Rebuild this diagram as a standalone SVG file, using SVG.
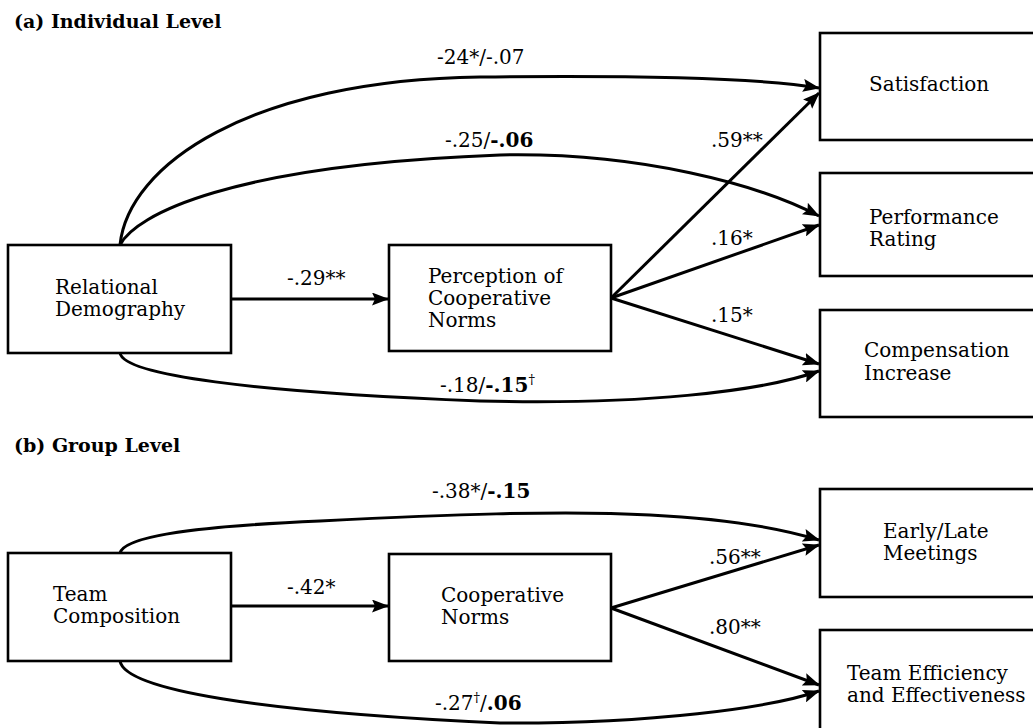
<svg xmlns="http://www.w3.org/2000/svg" width="1033" height="728" viewBox="0 0 1033 728">
<style>
.box{fill:#fff;stroke:#000;stroke-width:2.6}
.lbl{font-family:"DejaVu Serif","Liberation Serif",serif;font-size:20px;fill:#000}
.b{font-weight:bold}
.ttl{font-family:"DejaVu Serif","Liberation Serif",serif;font-size:19px;font-weight:bold;fill:#000}
.edge{fill:none;stroke:#000;stroke-width:3;marker-end:url(#ah)}
.sup{font-size:13px}
</style>
<defs>
<marker id="ah" viewBox="0 0 17 13" refX="16" refY="6.5" markerWidth="17" markerHeight="13" markerUnits="userSpaceOnUse" orient="auto">
<path d="M0,0 L17,6.5 L0,13 L3,6.5 Z" fill="#000"/>
</marker>
</defs>
<rect width="1033" height="728" fill="#fff"/>

<text class="ttl" x="14" y="28">(a) Individual Level</text>
<text class="ttl" x="14" y="452">(b) Group Level</text>

<g id="connectors">
<path class="edge" d="M120,245 C128,165 250,80 480,77 C650,75 760,78 819,88"/>
<path class="edge" d="M120,245 C135,215 230,165 500,155 C640,152 760,185 819,216"/>
<path class="edge" d="M120,353 C124,375 250,392 480,401 C640,405 760,392 819,371"/>
<path class="edge" d="M231,299 L388,299"/>
<path class="edge" d="M611,298 L819,93"/>
<path class="edge" d="M611,298 L819,225"/>
<path class="edge" d="M611,298 L819,364"/>
<path class="edge" d="M120,553 C124,538 180,527 320,521 C440,515 560,510 650,515 C730,519 780,528 819,540"/>
<path class="edge" d="M120,661 C125,690 260,712 500,723 C650,724 770,708 819,691"/>
<path class="edge" d="M231,606 L388,606"/>
<path class="edge" d="M611,608 L819,545"/>
<path class="edge" d="M611,608 L819,685"/>
</g>

<g id="edge-labels">
<text class="lbl" x="437" y="64">-24*/-.07</text>
<text class="lbl" x="445" y="147">-.25/<tspan class="b">-.06</tspan></text>
<text class="lbl" x="711" y="147">.59**</text>
<text class="lbl" x="711" y="245">.16*</text>
<text class="lbl" x="711" y="322">.15*</text>
<text class="lbl" x="287" y="285">-.29**</text>
<text class="lbl" x="440" y="392">-.18/<tspan class="b">-.15</tspan><tspan class="sup" dy="-8">†</tspan></text>
<text class="lbl" x="432" y="498">-.38*/<tspan class="b">-.15</tspan></text>
<text class="lbl" x="287" y="594">-.42*</text>
<text class="lbl" x="709" y="564">.56**</text>
<text class="lbl" x="709" y="634">.80**</text>
<text class="lbl" x="435" y="710">-.27<tspan class="sup" dy="-8">†</tspan><tspan dy="8">/</tspan><tspan class="b">.06</tspan></text>
</g>

<g id="relational-demography">
<rect class="box" x="8" y="245" width="223" height="108"/>
<text class="lbl" x="55" y="294">Relational</text>
<text class="lbl" x="55" y="316">Demography</text>
</g>
<g id="perception-norms">
<rect class="box" x="389" y="245" width="222" height="106"/>
<text class="lbl" x="428" y="283">Perception of</text>
<text class="lbl" x="428" y="305">Cooperative</text>
<text class="lbl" x="428" y="327">Norms</text>
</g>
<g id="satisfaction">
<rect class="box" x="820" y="33" width="222" height="107"/>
<text class="lbl" x="869" y="91">Satisfaction</text>
</g>
<g id="performance-rating">
<rect class="box" x="820" y="173" width="222" height="103"/>
<text class="lbl" x="869" y="224">Performance</text>
<text class="lbl" x="869" y="246">Rating</text>
</g>
<g id="compensation-increase">
<rect class="box" x="820" y="310" width="222" height="107"/>
<text class="lbl" x="864" y="357">Compensation</text>
<text class="lbl" x="864" y="380">Increase</text>
</g>
<g id="team-composition">
<rect class="box" x="8" y="553" width="223" height="108"/>
<text class="lbl" x="53" y="601">Team</text>
<text class="lbl" x="53" y="623">Composition</text>
</g>
<g id="cooperative-norms">
<rect class="box" x="389" y="554" width="222" height="107"/>
<text class="lbl" x="441" y="602">Cooperative</text>
<text class="lbl" x="441" y="624">Norms</text>
</g>
<g id="early-late-meetings">
<rect class="box" x="820" y="489" width="222" height="108"/>
<text class="lbl" x="883" y="538">Early/Late</text>
<text class="lbl" x="883" y="560">Meetings</text>
</g>
<g id="team-efficiency">
<rect class="box" x="820" y="630" width="222" height="110"/>
<text class="lbl" x="847" y="680">Team Efficiency</text>
<text class="lbl" x="847" y="702">and Effectiveness</text>
</g>
</svg>
